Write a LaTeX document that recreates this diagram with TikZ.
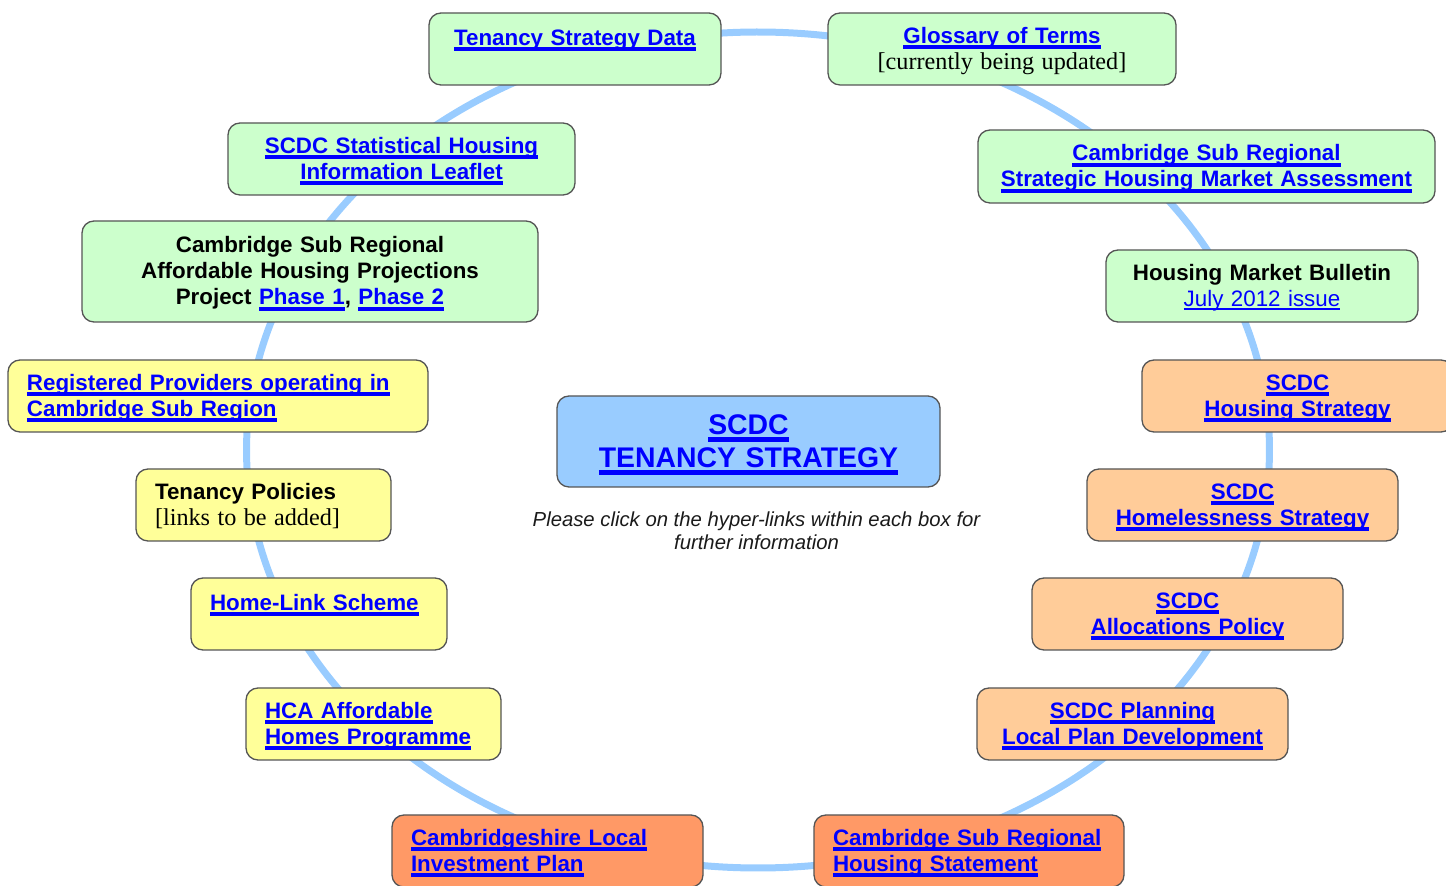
\documentclass[tikz,border=0pt]{standalone}
\usepackage{fontspec}
\setmainfont{Liberation Sans}
\newfontfamily\seriffont{Liberation Serif}
\usetikzlibrary{calc}
\definecolor{linkblue}{HTML}{0000FF}
\definecolor{gfill}{HTML}{CCFFCC}
\definecolor{yfill}{HTML}{FFFF99}
\definecolor{ofill}{HTML}{FFCC99}
\definecolor{dofill}{HTML}{FF9966}
\definecolor{bfill}{HTML}{99CCFF}
\definecolor{ringcol}{HTML}{99CCFF}
\definecolor{edgecol}{HTML}{555555}
\definecolor{captcol}{HTML}{1A1A1A}
\newsavebox\lkbox
% bold hyperlink look: blue, underlined
\newcommand\lk[1]{{\color{linkblue}\sbox\lkbox{#1}\rlap{\rule[-0.26em]{\wd\lkbox}{0.16em}}\usebox\lkbox}}
% regular-weight hyperlink
\newcommand\lkr[1]{{\mdseries\color{linkblue}\sbox\lkbox{#1}\rlap{\rule[-0.17em]{\wd\lkbox}{0.07em}}\usebox\lkbox}}
\newcommand\boxfont{\fontsize{22.35pt}{26pt}\selectfont\bfseries}
\newcommand\serftext[1]{{\seriffont\mdseries\fontsize{24.2pt}{26pt}\selectfont #1}}
% first-line struts (shift text block slightly down)
\newcommand\fs{\rule{0pt}{22.2pt}}
\newcommand\fsb{\rule{0pt}{26.2pt}}
\newcommand\fsc{\rule{0pt}{29.1pt}}
\tikzset{
  box/.style={draw=edgecol, line width=1.3pt, rounded corners=12pt, inner xsep=19pt,
    inner ysep=0pt, minimum height=72pt, font=\boxfont, text=black},
  cbox/.style={box, align=center},
  lbox/.style={box, align=left},
  ring/.style={draw=ringcol, line width=7pt}
}
\begin{document}
\begin{tikzpicture}[x=1pt,y=1pt]
\useasboundingbox (0,0) rectangle (1446,886);
\clip (0,0) rectangle (1446,886);
% ring of connectors between consecutive boxes
\coordinate (ringc) at (758,436);
\foreach \a/\b in {111/68, 68/43, 43/23, 23/7.4, 7.4/-7.6, -7.6/-23, -23/-41, -41/-75,
  -75/-105, -105/-139, -139/-157, -157/-172.4, -172.4/-187.4, -187.4/-205.2,
  -205.2/-224.1, -224.1/-249}
  \draw[ring] ($(ringc)+(\a:511.5pt and 418pt)$) arc[start angle=\a, end angle=\b, x radius=511.5pt, y radius=418pt];

% green boxes
\node[cbox, fill=gfill, text width=254pt] (n1) at (575,837) {\fsb\lk{Tenancy Strategy Data}\\\strut};
\node[cbox, fill=gfill, text width=310pt] (n2) at (1002,837) {\fs\lk{Glossary of Terms}\\\strut\serftext{[currently being updated]}};
\node[cbox, fill=gfill, text width=419pt, minimum height=73pt] (n3) at (1206.5,719.5) {\fs\lk{Cambridge Sub Regional}\\\strut\lk{Strategic Housing Market Assessment}};
\node[cbox, fill=gfill, text width=274pt] (n4) at (1262,600) {\fs Housing Market Bulletin\\\strut\lkr{July 2012 issue}};
% light orange boxes
\node[cbox, fill=ofill, text width=273pt] (n5) at (1297.5,490) {\fs\lk{SCDC}\\\strut\lk{Housing Strategy}};
\node[cbox, fill=ofill, text width=273pt] (n6) at (1242.5,381) {\fs\lk{SCDC}\\\strut\lk{Homelessness Strategy}};
\node[cbox, fill=ofill, text width=273pt] (n7) at (1187.5,272) {\fs\lk{SCDC}\\\strut\lk{Allocations Policy}};
\node[cbox, fill=ofill, text width=273pt] (n8) at (1132.5,162) {\fs\lk{SCDC Planning}\\\strut\lk{Local Plan Development}};
% dark orange boxes
\node[lbox, fill=dofill, text width=272pt] (n9) at (969,35) {\fs\lk{Cambridge Sub Regional}\\\strut\lk{Housing Statement}};
\node[lbox, fill=dofill, text width=273pt] (n10) at (547.5,35) {\fs\lk{Cambridgeshire Local}\\\strut\lk{Investment Plan}};
% yellow boxes
\node[lbox, fill=yfill, text width=217pt] (n11) at (373.5,162) {\fs\lk{HCA Affordable}\\\strut\lk{Homes Programme}};
\node[lbox, fill=yfill, text width=218pt] (n12) at (319,272) {\fsb\lk{Home-Link Scheme}\\\strut};
\node[lbox, fill=yfill, text width=217pt] (n13) at (263.5,381) {\fs Tenancy Policies\\\strut\serftext{[links to be added]}};
\node[lbox, fill=yfill, text width=382pt] (n14) at (218,490) {\fs\lk{Registered Providers operating in}\\\strut\lk{Cambridge Sub Region}};
% green boxes (left)
\node[cbox, fill=gfill, text width=418pt, minimum height=101pt] (n15) at (310,614.5) {\fs Cambridge Sub Regional\\\strut Affordable Housing Projections\\\strut Project \lk{Phase 1}, \lk{Phase 2}};
\node[cbox, fill=gfill, text width=309pt] (n16) at (401.5,727) {\fs\lk{SCDC Statistical Housing}\\\strut\lk{Information Leaflet}};
% centre
\node[cbox, fill=bfill, text width=345pt, minimum height=91pt, font=\fontsize{28.4pt}{33pt}\selectfont\bfseries] (ctr) at (748.5,444.5) {\fsc\lk{SCDC}\\\strut\lk{TENANCY STRATEGY}};
\node[align=center, inner sep=0pt, text=captcol, font=\fontsize{20.3pt}{23pt}\selectfont\itshape] (cap) at (756.5,352.4) {\strut Please click on the hyper-links within each box for\\\strut further information};
\end{tikzpicture}
\end{document}
